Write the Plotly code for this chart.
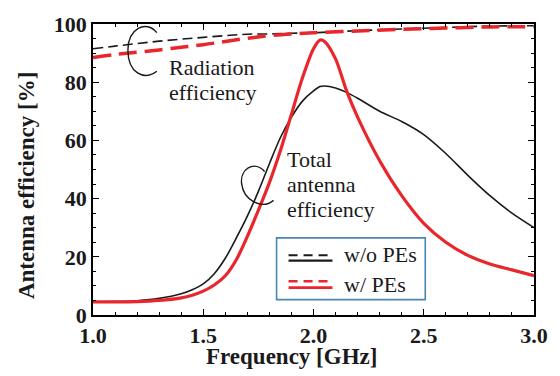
import numpy as np
import plotly.graph_objects as go

# ---------------- data ----------------
freq_rad = [1.0, 1.1, 1.2, 1.3, 1.4, 1.5, 1.6, 1.7, 1.8, 1.9, 2.0, 2.2, 2.4, 2.6, 2.8, 3.0]
rad_wo = [91.5, 92.4, 93.3, 94.1, 94.8, 95.4, 96.0, 96.5, 96.6, 96.8, 97.0, 97.7, 98.3, 98.8, 99.3, 99.4]
rad_w = [88.5, 89.5, 90.3, 91.1, 92.0, 92.9, 94.0, 95.1, 96.0, 96.6, 97.0, 97.6, 98.2, 98.6, 99.0, 99.1]

freq_tot = [1.0, 1.1, 1.2, 1.3, 1.4, 1.45, 1.5, 1.55, 1.6, 1.65, 1.7, 1.75, 1.8, 1.85, 1.9, 1.95, 2.0,
            2.03, 2.05, 2.1, 2.15, 2.2, 2.3, 2.4, 2.5, 2.6, 2.7, 2.8, 2.9, 3.0]
tot_wo = [4.5, 4.6, 4.9, 5.7, 7.3, 8.7, 10.7, 14.2, 19.5, 26.5, 34.0, 42.5, 52.0, 61.0, 68.0, 73.5, 77.0,
          78.5, 78.7, 78.0, 76.5, 74.5, 70.0, 66.5, 62.0, 55.5, 48.0, 41.0, 35.0, 30.0]
tot_w = [4.5, 4.5, 4.6, 5.0, 5.9, 6.8, 8.2, 10.3, 13.5, 19.0, 27.0, 36.0, 45.5, 56.5, 69.0, 81.5, 91.5,
         94.5, 94.0, 88.0, 77.0, 68.0, 53.0, 41.0, 31.5, 25.0, 20.5, 17.5, 15.5, 13.5]

x_ticks = [1.0, 1.5, 2.0, 2.5, 3.0]
x_ticklabels = ["1.0", "1.5", "2.0", "2.5", "3.0"]
y_ticks = [0, 20, 40, 60, 80, 100]

RED = "#e8262c"
BLACK = "#1a1a1a"
FONT = "Liberation Serif, Times New Roman, serif"

# pixel -> data helpers (plot area: x 93..535, y 13..315)
L, R, T, B = 93, 535, 13, 315
W, H = 560, 376
def X(px):
    return 1.0 + (px - L) / (R - L) * 2.0
def Y(py):
    return (B - py) / (B - T) * 100.0
def PX(px):
    return (px - L) / (R - L)
def PY(py):
    return (B - py) / (B - T)

fig = go.Figure()
fig.add_trace(go.Scatter(x=freq_rad, y=rad_wo, mode="lines", line=dict(color=BLACK, width=1.6, dash="10px,5px", shape="spline"), showlegend=False))
fig.add_trace(go.Scatter(x=freq_tot, y=tot_wo, mode="lines", line=dict(color=BLACK, width=1.6, shape="spline", smoothing=0.8), showlegend=False))
fig.add_trace(go.Scatter(x=freq_rad, y=rad_w, mode="lines", line=dict(color=RED, width=3.5, dash="18px,8px", shape="spline"), showlegend=False))
fig.add_trace(go.Scatter(x=freq_tot, y=tot_w, mode="lines", line=dict(color=RED, width=3.2, shape="spline", smoothing=0.8), showlegend=False))

shapes = []
annotations = []

def bez_path(pts):
    s = "M {},{}".format(X(pts[0][0]), Y(pts[0][1]))
    i = 1
    while i < len(pts):
        s += " C {},{} {},{} {},{}".format(X(pts[i][0]), Y(pts[i][1]), X(pts[i+1][0]), Y(pts[i+1][1]), X(pts[i+2][0]), Y(pts[i+2][1]))
        i += 3
    return s

arc1 = [(157, 22), (146, 8), (128, 18), (128, 40), (128, 64), (144, 72), (157, 62)]
arc2 = [(265, 166), (254, 154), (240, 164), (242, 179), (244, 196), (262, 206), (274, 196)]
for a in (arc1, arc2):
    shapes.append(dict(type="path", path=bez_path(a), xref="x", yref="y", line=dict(color=BLACK, width=1.4)))

def txt(px, py, s, size=22):
    annotations.append(dict(x=X(px), y=Y(py), xref="x", yref="y", text=s, showarrow=False,
                            xanchor="left", yanchor="middle", font=dict(family=FONT, size=size, color=BLACK)))

txt(167, 58, "Radiation")
txt(167, 84, "efficiency")
txt(285, 154, "Total")
txt(285, 180, "antenna")
txt(285, 206, "efficiency")

# legend box (drawn)
shapes.append(dict(type="rect", xref="x", yref="y", x0=X(277), x1=X(426), y0=Y(235), y1=Y(299),
                   line=dict(color="#4a86b3", width=1.6), fillcolor="white", layer="above"))
shapes.append(dict(type="line", xref="x", yref="y", x0=X(289), x1=X(333), y0=Y(253), y1=Y(253), line=dict(color=BLACK, width=2.2, dash="9px,6px")))
shapes.append(dict(type="line", xref="x", yref="y", x0=X(289), x1=X(333), y0=Y(258.5), y1=Y(258.5), line=dict(color=BLACK, width=2.2)))
shapes.append(dict(type="line", xref="x", yref="y", x0=X(289), x1=X(333), y0=Y(280), y1=Y(280), line=dict(color=RED, width=2.4, dash="9px,6px")))
shapes.append(dict(type="line", xref="x", yref="y", x0=X(289), x1=X(333), y0=Y(286.5), y1=Y(286.5), line=dict(color=RED, width=2.8)))
txt(343, 252, "w/o PEs")
txt(343, 283, "w/ PEs")

# axis titles
annotations.append(dict(x=PX(292), y=PY(358), xref="paper", yref="paper", text="<b>Frequency [GHz]</b>",
                        showarrow=False, xanchor="center", yanchor="middle",
                        font=dict(family=FONT, size=23, color=BLACK)))
annotations.append(dict(x=PX(27), y=PY(181), xref="paper", yref="paper", text="<b>Antenna efficiency [%]</b>",
                        showarrow=False, textangle=-90, xanchor="center", yanchor="middle",
                        font=dict(family=FONT, size=23, color=BLACK)))

axis_common = dict(showline=True, linecolor="black", linewidth=1.5, mirror="allticks",
                   ticks="inside", ticklen=6, tickwidth=1.3, tickcolor="black",
                   showgrid=False, zeroline=False,
                   tickfont=dict(family=FONT, size=22, color=BLACK))

fig.update_layout(
    width=W, height=H,
    margin=dict(l=L, r=W - R, t=T, b=H - B),
    paper_bgcolor="white", plot_bgcolor="white",
    showlegend=False,
    shapes=shapes, annotations=annotations,
    xaxis=dict(range=[1.0, 3.0], tickvals=x_ticks, ticktext=["<b>%s</b>" % t for t in x_ticklabels],
               minor=dict(dtick=0.1, ticks="inside", ticklen=3, tickcolor="black"), **axis_common),
    yaxis=dict(range=[0, 100], tickvals=y_ticks, ticktext=["<b>%d</b>" % v for v in y_ticks],
               minor=dict(dtick=5, ticks="inside", ticklen=3, tickcolor="black"), **axis_common),
)

fig.write_html("out.html")
